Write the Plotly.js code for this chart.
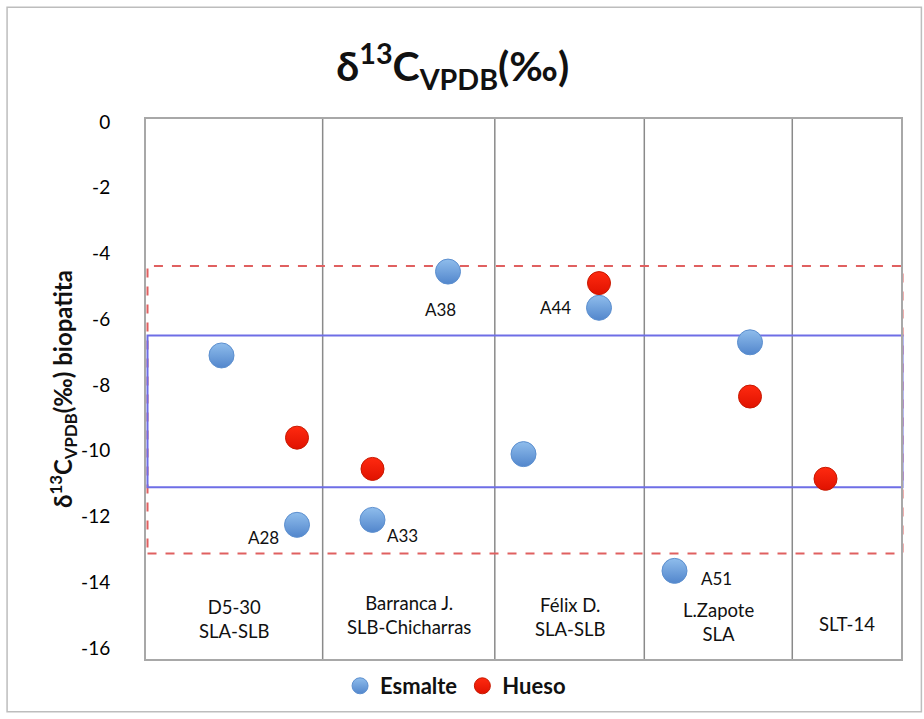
<!DOCTYPE html>
<html>
<head>
<meta charset="utf-8">
<script src="https://cdn.plot.ly/plotly-3.0.1.min.js"></script>
<style>html,body{margin:0;padding:0;background:#fff;}#chart{width:924px;height:719px;}</style>
</head>
<body>
<div id="chart"></div>
<script>
// ---- data ----
const esmalteX = [1, 2, 3, 4, 5, 6, 7, 8];
const esmalteY = [-7.1, -12.25, -12.1, -4.55, -10.1, -5.65, -13.65, -6.7];
const esmalteLabels = ['', 'A28', 'A33', 'A38', '', 'A44', 'A51', ''];
const huesoX = [2, 3, 6, 8, 9];
const huesoY = [-9.6, -10.55, -4.9, -8.35, -10.85];
const categories = ['D5-30<br>SLA-SLB', 'Barranca J.<br>SLB-Chicharras', 'Félix D.<br>SLA-SLB', 'L.Zapote<br>SLA', 'SLT-14'];
const categoryBounds = [0, 2.34, 4.62, 6.6, 8.56, 10];
const yTicks = [0, -2, -4, -6, -8, -10, -12, -14, -16];
const redRange = [-13.12, -4.38];
const blueRange = [-11.11, -6.49];

// ---- style (label offsets in px) ----
const labelOffsets = {A28: [-34, -13], A33: [30, -16], A38: [-8, -38], A44: [-44, 0], A51: [42, -8]};
const catLabelY = [0.074, 0.081, 0.077, 0.068, 0.064];
const FONT = 'Lato, "Open Sans", sans-serif';

const traces = [
  {
    type: 'scatter', mode: 'markers', name: 'Esmalte',
    x: esmalteX, y: esmalteY,
    marker: {size: 25, color: '#8fbdec', gradient: {type: 'vertical', color: '#5286cc'},
             line: {color: '#5c8fcf', width: 1}}
  },
  {
    type: 'scatter', mode: 'markers', name: 'Hueso',
    x: huesoX, y: huesoY,
    marker: {size: 23, color: '#ff2a10', gradient: {type: 'vertical', color: '#e01200'},
             line: {color: '#c81800', width: 1}}
  }
];

const shapes = [];
// column separators
categoryBounds.slice(1, -1).forEach(b => {
  shapes.push({type: 'line', xref: 'x', yref: 'paper', x0: b, x1: b, y0: 0, y1: 1,
               line: {color: '#8a8a8a', width: 1.5}, layer: 'below'});
});
// ranges
shapes.push({type: 'rect', xref: 'paper', yref: 'y', x0: 0.002, x1: 1.002, y0: redRange[0], y1: redRange[1],
             line: {color: '#e06060', width: 2, dash: 'dash'}, layer: 'below'});
shapes.push({type: 'rect', xref: 'paper', yref: 'y', x0: 0.002, x1: 1.002, y0: blueRange[0], y1: blueRange[1],
             line: {color: '#6e6ee6', width: 2}, layer: 'below'});
// outer frame
shapes.push({type: 'rect', xref: 'paper', yref: 'paper', x0: -0.184, x1: 1.027, y0: -0.0975, y1: 1.207,
             line: {color: '#bdbdbd', width: 1.5}, layer: 'below'});

const annotations = [];
esmalteLabels.forEach((t, i) => {
  if (!t) return;
  const o = labelOffsets[t];
  annotations.push({x: esmalteX[i], y: esmalteY[i], xref: 'x', yref: 'y', text: t, showarrow: false,
                    xshift: o[0], yshift: o[1], font: {family: FONT, size: 17, color: '#111'}});
});
categories.forEach((c, i) => {
  annotations.push({x: (categoryBounds[i] + categoryBounds[i + 1]) / 2, y: catLabelY[i], xref: 'x', yref: 'paper',
                    text: c, showarrow: false, yanchor: 'middle',
                    font: {family: FONT, size: 18.5, color: '#111'}});
});

const layout = {
  width: 924, height: 719,
  margin: {l: 146, r: 23, t: 119, b: 56},
  paper_bgcolor: '#fff', plot_bgcolor: '#fff',
  font: {family: FONT, color: '#111'},
  title: {text: '<b>δ<sup>13</sup>C<sub>VPDB</sub>(‰)</b>', x: 0.49, xref: 'container', xanchor: 'center',
          y: 0.907, yref: 'container', yanchor: 'middle',
          font: {family: FONT, size: 41, color: '#111'}},
  xaxis: {range: [0, 10], showgrid: false, zeroline: false, showticklabels: false, ticks: '',
          showline: true, mirror: true, linecolor: '#a8a8a8', linewidth: 2, fixedrange: true},
  yaxis: {range: [-16.33, 0.09], tickvals: yTicks, ticktext: yTicks.map(String), showgrid: false, zeroline: false,
          ticks: '', ticklabelstandoff: 30, tickfont: {family: FONT, size: 19, color: '#000'},
          showline: true, mirror: true, linecolor: '#a8a8a8', linewidth: 2,
          title: {text: '<b>δ<sup>13</sup>C<sub>VPDB</sub>(‰) biopatita</b>', standoff: 2,
                  font: {family: FONT, size: 24, color: '#111'}}, fixedrange: true},
  showlegend: true,
  legend: {orientation: 'h', x: 0.41, xanchor: 'center', y: -0.05, yanchor: 'middle',
           font: {family: FONT, size: 22, color: '#111', weight: 'bold'}, itemsizing: 'trace',
           itemwidth: 30, tracegroupgap: 0, bgcolor: 'rgba(0,0,0,0)'},
  shapes: shapes,
  annotations: annotations
};

Plotly.newPlot('chart', traces, layout, {displayModeBar: false, staticPlot: true});
</script>
</body>
</html>
